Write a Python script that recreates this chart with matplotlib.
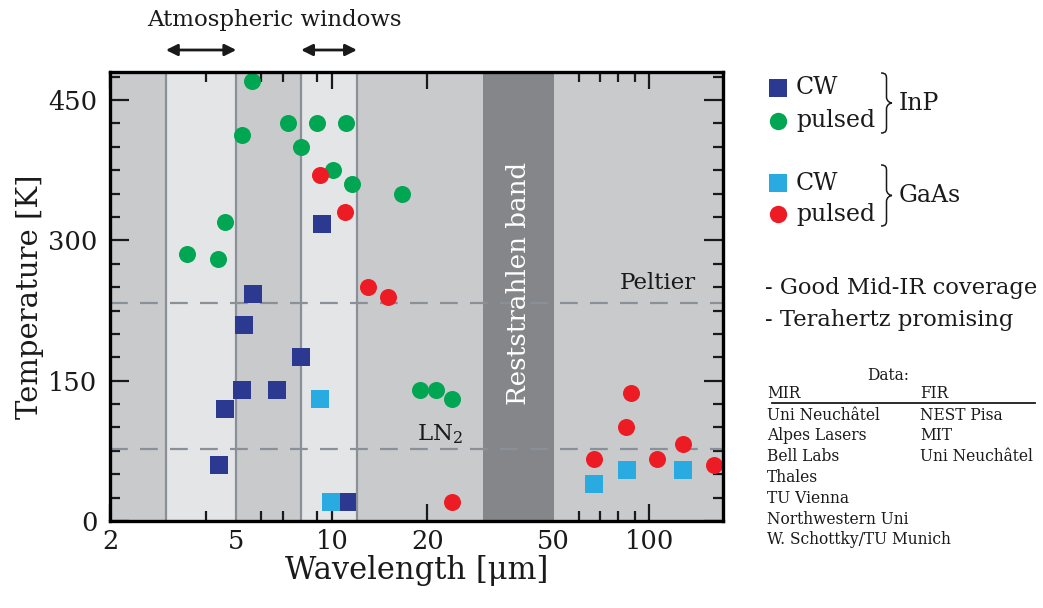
import matplotlib
import matplotlib.pyplot as plt
from matplotlib.lines import Line2D
from matplotlib.patches import PathPatch
from matplotlib.path import Path
from matplotlib.transforms import blended_transform_factory

matplotlib.use("Agg")

plt.rcParams["font.family"] = ["DejaVu Serif"]
plt.rcParams["mathtext.fontset"] = "dejavuserif"

# InP, continuous wave
inp_cw_wl = [9.3, 5.65, 5.3, 8.0, 5.21, 6.74, 4.61, 4.41, 11.2]
inp_cw_t = [318, 243, 210, 175, 140, 140, 120, 60, 20]
# InP, pulsed
inp_pulsed_wl = [5.6, 7.3, 9.0, 11.07, 5.2, 8.0, 10.07, 11.6, 16.6, 4.6, 3.5, 4.39, 19.0, 21.3, 23.9]
inp_pulsed_t = [470, 425, 425, 425, 413, 400, 375, 360, 350, 320, 285, 280, 140, 140, 130]
# GaAs, continuous wave
gaas_cw_wl = [9.2, 9.95, 66.8, 85.1, 127.8]
gaas_cw_t = [130, 20, 40, 55, 55]
# GaAs, pulsed
gaas_pulsed_wl = [9.19, 11.0, 13.0, 15.0, 23.9, 66.8, 84.6, 87.8, 105.5, 127.5, 159.6]
gaas_pulsed_t = [370, 330, 250, 240, 20, 66, 100, 137, 66, 82, 60]

windows = [(3.0, 5.0), (8.0, 12.0)]
reststrahlen = (30.0, 50.0)
peltier_t = 233
ln2_t = 77

x_major = [2, 5, 10, 20, 50, 100]
x_minor = [4, 6, 7, 9, 20, 40, 60, 70, 80, 90]
y_major = [0, 150, 300, 450]

mir_labs = ["Uni Neuchâtel", "Alpes Lasers", "Bell Labs", "Thales", "TU Vienna",
            "Northwestern Uni", "W. Schottky/TU Munich"]
fir_labs = ["NEST Pisa", "MIT", "Uni Neuchâtel"]

DARK_BLUE = "#2b3990"
GREEN = "#00a651"
LIGHT_BLUE = "#29abe2"
RED = "#ed1c24"
LINE_GRAY = "#8a9098"
INK = "#1a1a1a"

W, H = 1043, 608


def fpx(x, y):
    """Pixel position (from top-left) to figure fraction."""
    return x / W, 1 - y / H


def add_brace(fig, x_end, x_tip, y_top, y_bot):
    """Thin right-facing curly brace, given in pixels."""
    x_mid = (x_end + x_tip) / 2
    y_c = (y_top + y_bot) / 2
    r = 6
    pts = [
        (x_end, y_top), (x_mid, y_top), (x_mid, y_top + r / 2), (x_mid, y_top + r),
        (x_mid, y_c - r),
        (x_mid, y_c - r / 3), (x_tip - 2, y_c), (x_tip, y_c),
        (x_tip - 2, y_c), (x_mid, y_c + r / 3), (x_mid, y_c + r),
        (x_mid, y_bot - r),
        (x_mid, y_bot - r / 2), (x_mid, y_bot), (x_end, y_bot),
    ]
    codes = [Path.MOVETO, Path.CURVE4, Path.CURVE4, Path.CURVE4, Path.LINETO,
             Path.CURVE4, Path.CURVE4, Path.CURVE4, Path.CURVE4, Path.CURVE4, Path.CURVE4,
             Path.LINETO, Path.CURVE4, Path.CURVE4, Path.CURVE4]
    path = Path([fpx(x, y) for x, y in pts], codes)
    fig.add_artist(PathPatch(path, fill=False, lw=1.1, edgecolor=INK,
                             transform=fig.transFigure))


fig = plt.figure(figsize=(W / 100, H / 100), dpi=100)
ax = fig.add_axes([110 / W, 1 - 521 / H, 613 / W, 449 / H])
ax.set_xscale("log")
ax.set_xlim(2, 170.8)
ax.set_ylim(0, 480)
ax.set_facecolor("#c9cacc")

for lo, hi in windows:
    ax.axvspan(lo, hi, color="#e4e5e7", lw=0, zorder=0.5)
    ax.axvline(lo, color=LINE_GRAY, lw=1.6, zorder=2)
    ax.axvline(hi, color=LINE_GRAY, lw=1.6, zorder=2)
ax.axvspan(*reststrahlen, color="#858689", lw=0, zorder=1.6)

ax.axhline(peltier_t, color=LINE_GRAY, lw=1.6, dashes=(8, 5.5), zorder=1.7)
ax.axhline(ln2_t, color=LINE_GRAY, lw=1.6, dashes=(8, 5.5), zorder=1.7)

ms = 150
ax.scatter(inp_cw_wl, inp_cw_t, marker="s", s=ms, color=DARK_BLUE, lw=0, zorder=3)
ax.scatter(inp_pulsed_wl, inp_pulsed_t, marker="o", s=ms, color=GREEN, lw=0, zorder=3)
ax.scatter(gaas_cw_wl, gaas_cw_t, marker="s", s=ms, color=LIGHT_BLUE, lw=0, zorder=3)
ax.scatter(gaas_pulsed_wl, gaas_pulsed_t, marker="o", s=ms, color=RED, lw=0, zorder=3)

ax.set_xticks(x_major)
ax.set_xticklabels([str(v) for v in x_major])
ax.set_xticks(x_minor, minor=True)
ax.set_xticklabels([], minor=True)
ax.set_yticks(y_major)
ax.set_yticks(range(0, 480, 25), minor=True)
ax.tick_params(which="both", direction="in", top=True, right=True, width=1.6, colors=INK)
ax.tick_params(which="major", length=14, labelsize=18.5)
ax.tick_params(which="minor", length=7)
ax.tick_params(axis="x", which="major", length=12, pad=6)
ax.tick_params(axis="y", which="major", pad=9)
for tick in ax.xaxis.get_major_ticks():
    if tick.get_loc() in (5, 50):
        tick.tick1line.set_visible(False)
        tick.tick2line.set_visible(False)
for spine in ax.spines.values():
    spine.set_linewidth(2.4)
    spine.set_zorder(4)

ax.set_xlabel("Wavelength [μm]", fontsize=22, color=INK)
ax.set_ylabel("Temperature [K]", fontsize=21, color=INK)
ax.xaxis.set_label_coords(0.5, -0.075)
ax.yaxis.set_label_coords(-0.108, 0.5)

ax.text(38.7, 254, "Reststrahlen band", rotation=90, color="white", fontsize=18.8,
        ha="center", va="center", zorder=3)
ax.text(140, 243, "Peltier", fontsize=16.5, ha="right", va="bottom", color=INK)
ax.text(18.5, 86, "LN$_2$", fontsize=16.5, ha="left", va="baseline", color=INK)

# atmospheric window arrows above the axes
trans = blended_transform_factory(ax.transData, fig.transFigure)
for lo, hi in windows:
    ax.annotate("", xy=(hi, 1 - 50 / H), xytext=(lo, 1 - 50 / H), xycoords=trans,
                textcoords=trans, annotation_clip=False,
                arrowprops=dict(arrowstyle="<|-|>", color=INK, lw=2,
                                mutation_scale=17, shrinkA=0, shrinkB=0))
fig.text(*fpx(274, 20), "Atmospheric windows", fontsize=16.5, ha="center", va="center",
         color=INK)

# legend
legend_rows = [(88, "s", DARK_BLUE), (121, "o", GREEN), (183, "s", LIGHT_BLUE), (214, "o", RED)]
for y, marker, color in legend_rows:
    fig.add_artist(Line2D([778 / W], [1 - y / H], marker=marker, markersize=12.5, color=color,
                          markeredgewidth=0, transform=fig.transFigure))
    fig.text(*fpx(796, y), "CW" if marker == "s" else "pulsed", fontsize=17, va="center",
             color=INK)
add_brace(fig, 881, 892, 73, 133)
add_brace(fig, 881, 892, 165, 226)
fig.text(*fpx(899, 103), "InP", fontsize=17, va="center", color=INK)
fig.text(*fpx(899, 195), "GaAs", fontsize=17, va="center", color=INK)

fig.text(*fpx(765, 288), "- Good Mid-IR coverage", fontsize=16.3, va="center", color=INK)
fig.text(*fpx(765, 320), "- Terahertz promising", fontsize=16.3, va="center", color=INK)

# data sources table
fig.text(*fpx(888, 376), "Data:", fontsize=11.2, ha="center", va="center", color=INK)
fig.text(*fpx(767, 394), "MIR", fontsize=11.2, va="center", color=INK)
fig.text(*fpx(920, 394), "FIR", fontsize=11.2, va="center", color=INK)
fig.add_artist(Line2D([772 / W, 1035 / W], [1 - 403 / H, 1 - 403 / H], color=INK,
                      lw=1.3, transform=fig.transFigure))
for i, lab in enumerate(mir_labs):
    fig.text(*fpx(767, 415 + i * 20.8), lab, fontsize=11.2, va="center", color=INK)
for i, lab in enumerate(fir_labs):
    fig.text(*fpx(920, 415 + i * 20.8), lab, fontsize=11.2, va="center", color=INK)

fig.savefig("out.png", dpi=100)
plt.close(fig)
